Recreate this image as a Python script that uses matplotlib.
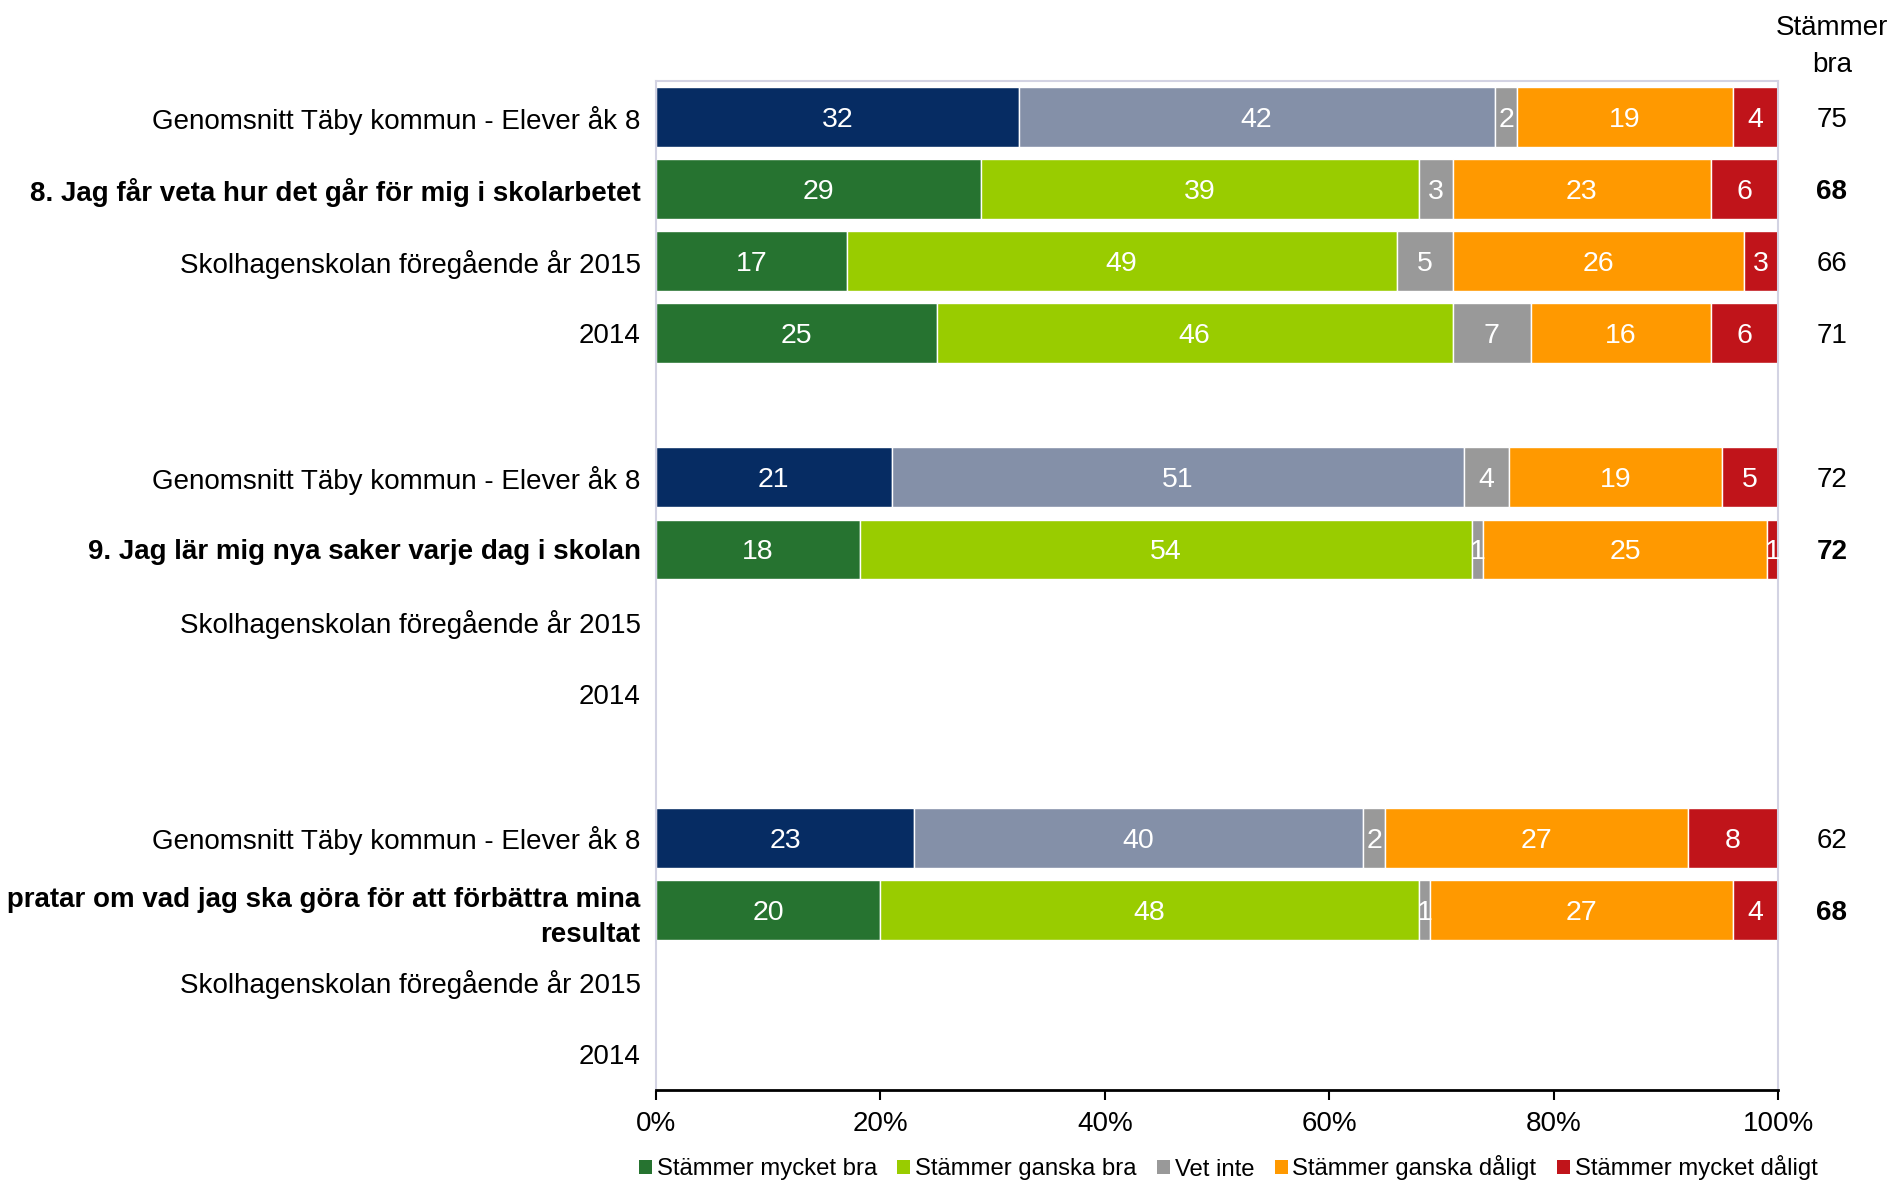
import numpy as np
import matplotlib.pyplot as plt
from matplotlib.patches import Patch

plt.rcParams['font.family'] = ['Liberation Sans', 'DejaVu Sans']

# Row labels (top to bottom) and positions on the y axis
row_labels = [
    "Genomsnitt Täby kommun - Elever åk 8",
    "8. Jag får veta hur det går för mig i skolarbetet",
    "Skolhagenskolan föregående år 2015",
    "2014",
    "Genomsnitt Täby kommun - Elever åk 8",
    "9. Jag lär mig nya saker varje dag i skolan",
    "Skolhagenskolan föregående år 2015",
    "2014",
    "Genomsnitt Täby kommun - Elever åk 8",
    "10. Lärarna pratar om vad jag ska göra för att förbättra mina\nresultat",
    "Skolhagenskolan föregående år 2015",
    "2014",
]
row_pos = [0, 1, 2, 3, 5, 6, 7, 8, 10, 11, 12, 13]
bold_rows = [1, 5, 9]
average_rows = [0, 4, 8]

# Answers in percent per row
mycket_bra = [32, 29, 17, 25, 21, 18, 0, 0, 23, 20, 0, 0]
ganska_bra = [42, 39, 49, 46, 51, 54, 0, 0, 40, 48, 0, 0]
vet_inte = [2, 3, 5, 7, 4, 1, 0, 0, 2, 1, 0, 0]
ganska_daligt = [19, 23, 26, 16, 19, 25, 0, 0, 27, 27, 0, 0]
mycket_daligt = [4, 6, 3, 6, 5, 1, 0, 0, 8, 4, 0, 0]

stammer_bra = [75, 68, 66, 71, 72, 72, None, None, 62, 68, None, None]

series_names = ["Stämmer mycket bra", "Stämmer ganska bra", "Vet inte",
                "Stämmer ganska dåligt", "Stämmer mycket dåligt"]
colors = ["#267330", "#99CC00", "#999999", "#FF9900", "#C0141A"]
avg_colors = ["#062C63", "#8490A8", "#999999", "#FF9900", "#C0141A"]

data = np.array([mycket_bra, ganska_bra, vet_inte, ganska_daligt, mycket_daligt], dtype=float)
totals = data.sum(axis=0)
shares = np.where(totals > 0, data / np.where(totals > 0, totals, 1) * 100, 0)

fig = plt.figure(figsize=(18.92, 11.83), dpi=100)
ax = fig.add_axes([656 / 1892, 1 - 1090 / 1183, (1778 - 656) / 1892, (1090 - 81) / 1183])

left = np.zeros(len(row_pos))
for i in range(5):
    cols = [avg_colors[i] if r in average_rows else colors[i] for r in range(len(row_pos))]
    ax.barh(row_pos, shares[i], left=left, height=0.83, color=cols,
            edgecolor="white", linewidth=1)
    for r in range(len(row_pos)):
        if data[i, r] > 0:
            ax.text(left[r] + shares[i, r] / 2, row_pos[r], f"{int(data[i, r])}",
                    ha="center", va="center_baseline", color="white", fontsize=20.5)
    left += shares[i]

ax.set_xlim(0, 100)
ax.set_ylim(13.5, -0.5)
ax.set_xticks([0, 20, 40, 60, 80, 100])
ax.set_xticklabels([f"{t}%" for t in [0, 20, 40, 60, 80, 100]], fontsize=20)
ax.tick_params(axis="x", length=7, width=1.5, pad=8)
ax.set_yticks(row_pos)
ax.set_yticklabels(row_labels, fontsize=20)
ax.tick_params(axis="y", length=0, pad=11)
for r, lab in enumerate(ax.get_yticklabels()):
    lab.set_multialignment("right")
    lab.set_linespacing(1.45)
    if r not in bold_rows:
        lab.set_verticalalignment("center_baseline")
    else:
        lab.set_fontweight("bold")

for side in ["left", "top", "right"]:
    ax.spines[side].set_color("#D3D3E3")
    ax.spines[side].set_linewidth(1.5)
ax.spines["bottom"].set_color("black")
ax.spines["bottom"].set_linewidth(2)

# Stämmer bra column
ax.text(1.048, 1.003, "Stämmer\nbra", transform=ax.transAxes, ha="center",
        va="bottom", fontsize=20, linespacing=1.55)
for r, v in enumerate(stammer_bra):
    if v is not None:
        ax.text(1.048, row_pos[r], str(v), transform=ax.get_yaxis_transform(),
                ha="center", va="center_baseline", fontsize=20,
                fontweight="bold" if r in bold_rows else "normal")

handles = [Patch(facecolor=c, label=n) for c, n in zip(colors, series_names)]
fig.legend(handles=handles, loc="center", bbox_to_anchor=(1228 / 1892, 1 - 1168 / 1183),
           ncol=5, frameon=False, fontsize=17.2, handlelength=0.55, handleheight=0.55,
           handletextpad=0.2, columnspacing=0.85)

fig.savefig("out.png", dpi=100)
